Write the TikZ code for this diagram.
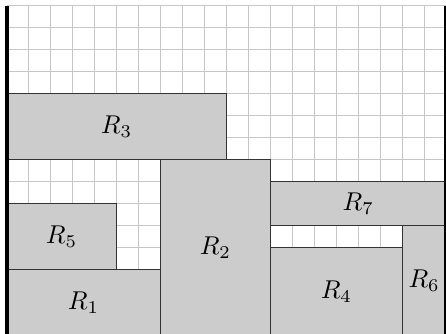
\documentclass[tikz,border=0pt]{standalone}
\tikzset{
  rectbox/.style={draw=black!80, line width=0.5pt, fill=black!20},
  gridline/.style={draw=black!22, line width=0.4pt},
  wall/.style={draw=black, line width=1.6pt}
}
\begin{document}
\begin{tikzpicture}[x=0.3cm,y=0.3cm]
\clip (-0.30,0.09) rectangle (19.99,15.27);
\draw[gridline, step=0.3cm] (0,0) grid (20,15);
\draw[rectbox] (0,0) rectangle (7,3) node[midway] (r1) {$R_1$};
\draw[rectbox] (0,3) rectangle (5,6) node[midway] (r5) {$R_5$};
\draw[rectbox] (0,8) rectangle (10,11) node[midway] (r3) {$R_3$};
\draw[rectbox] (7,0) rectangle (12,8) node[midway] (r2) {$R_2$};
\draw[rectbox] (12,5) rectangle (20,7) node[midway] (r7) {$R_7$};
\draw[rectbox] (12,0) rectangle (18,4) node[midway] (r4) {$R_4$};
\draw[rectbox] (18,0) rectangle (20,5) node[midway] (r6) {$R_6$};
\coordinate (wl0) at (0,-1);
\coordinate (wl1) at (0,15);
\coordinate (wr0) at (20,-1);
\coordinate (wr1) at (20,15);
\draw[wall] (wl0) -- (wl1);
\draw[wall] (wr0) -- (wr1);
\end{tikzpicture}
\end{document}
